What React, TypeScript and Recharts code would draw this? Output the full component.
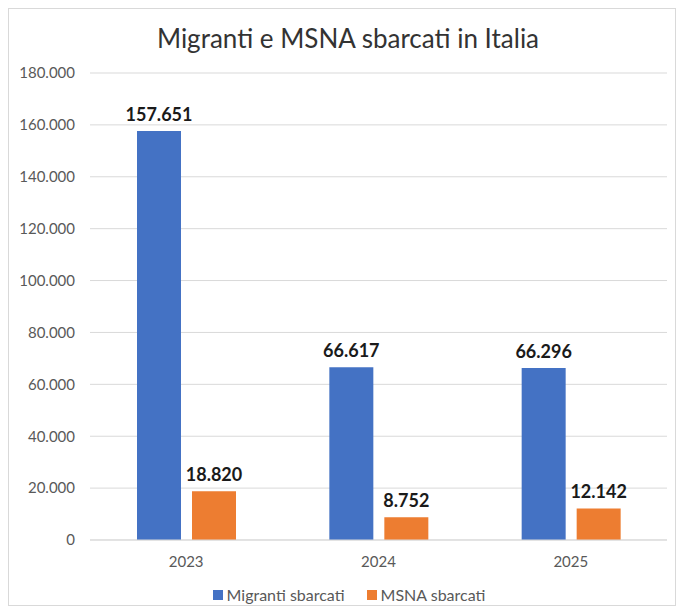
import React from 'react';
import { BarChart, Bar, XAxis, YAxis, CartesianGrid, Legend, LabelList } from 'recharts';

const years = ['2023', '2024', '2025'];
const migranti = [157651, 66617, 66296];
const msna = [18820, 8752, 12142];
const yTicks = [0, 20000, 40000, 60000, 80000, 100000, 120000, 140000, 160000, 180000];
const seriesNames = ['Migranti sbarcati', 'MSNA sbarcati'];
const seriesColors = ['#4472C4', '#ED7D31'];

const data = years.map((year, i) => ({ year, migranti: migranti[i], msna: msna[i] }));

const fmt = (v: number) => v.toLocaleString('it-IT');
const font = 'Lato, "Open Sans", sans-serif';

// keep legend in series order (recharts sorts by name otherwise)
const LegendContent = () => (
  <div
    style={{
      height: 31,
      boxSizing: 'border-box',
      paddingTop: 11,
      paddingLeft: 22,
      display: 'flex',
      justifyContent: 'center',
      gap: 22,
      fontSize: 16,
      fontFamily: font,
      color: '#595959',
      lineHeight: '18px',
    }}
  >
    {seriesNames.map((name, i) => (
      <span key={name} style={{ display: 'flex', alignItems: 'center' }}>
        <span style={{ width: 10, height: 10, background: seriesColors[i], marginRight: 4, display: 'inline-block' }} />
        {name}
      </span>
    ))}
  </div>
);

const App: React.FC = () => {
  return (
    <div
      style={{
        position: 'relative',
        width: 666,
        height: 596,
        border: '1px solid #d9d9d9',
        background: '#fff',
        fontFamily: font,
      }}
    >
      <div
        style={{
          position: 'absolute',
          top: 13,
          left: 6,
          width: '100%',
          textAlign: 'center',
          fontSize: 26,
          color: '#333333',
        }}
      >
        Migranti e MSNA sbarcati in Italia
      </div>
      <BarChart
        width={666}
        height={596}
        data={data}
        margin={{ top: 64, right: 8, left: 0, bottom: 0 }}
        barSize={44}
        barGap={11}
      >
        <CartesianGrid vertical={false} stroke="#d9d9d9" />
        <XAxis
          dataKey="year"
          axisLine={{ stroke: '#d9d9d9' }}
          tickLine={false}
          tick={{ fill: '#595959', fontSize: 15, fontFamily: font }}
          tickMargin={10}
          height={34}
        />
        <YAxis
          width={81}
          domain={[0, 180000]}
          ticks={yTicks}
          axisLine={false}
          tickLine={false}
          tickMargin={9}
          tickFormatter={fmt}
          tick={{ fill: '#595959', fontSize: 15, fontFamily: font }}
        />
        <Legend verticalAlign="bottom" content={<LegendContent />} />
        <Bar dataKey="migranti" name={seriesNames[0]} fill={seriesColors[0]} isAnimationActive={false}>
          <LabelList
            dataKey="migranti"
            position="top"
            offset={10}
            formatter={(v: any) => fmt(Number(v))}
            style={{ fill: '#1a1a1a', fontSize: 18, fontWeight: 700, fontFamily: font }}
          />
        </Bar>
        <Bar dataKey="msna" name={seriesNames[1]} fill={seriesColors[1]} isAnimationActive={false}>
          <LabelList
            dataKey="msna"
            position="top"
            offset={10}
            formatter={(v: any) => fmt(Number(v))}
            style={{ fill: '#1a1a1a', fontSize: 18, fontWeight: 700, fontFamily: font }}
          />
        </Bar>
      </BarChart>
    </div>
  );
};

export default App;
